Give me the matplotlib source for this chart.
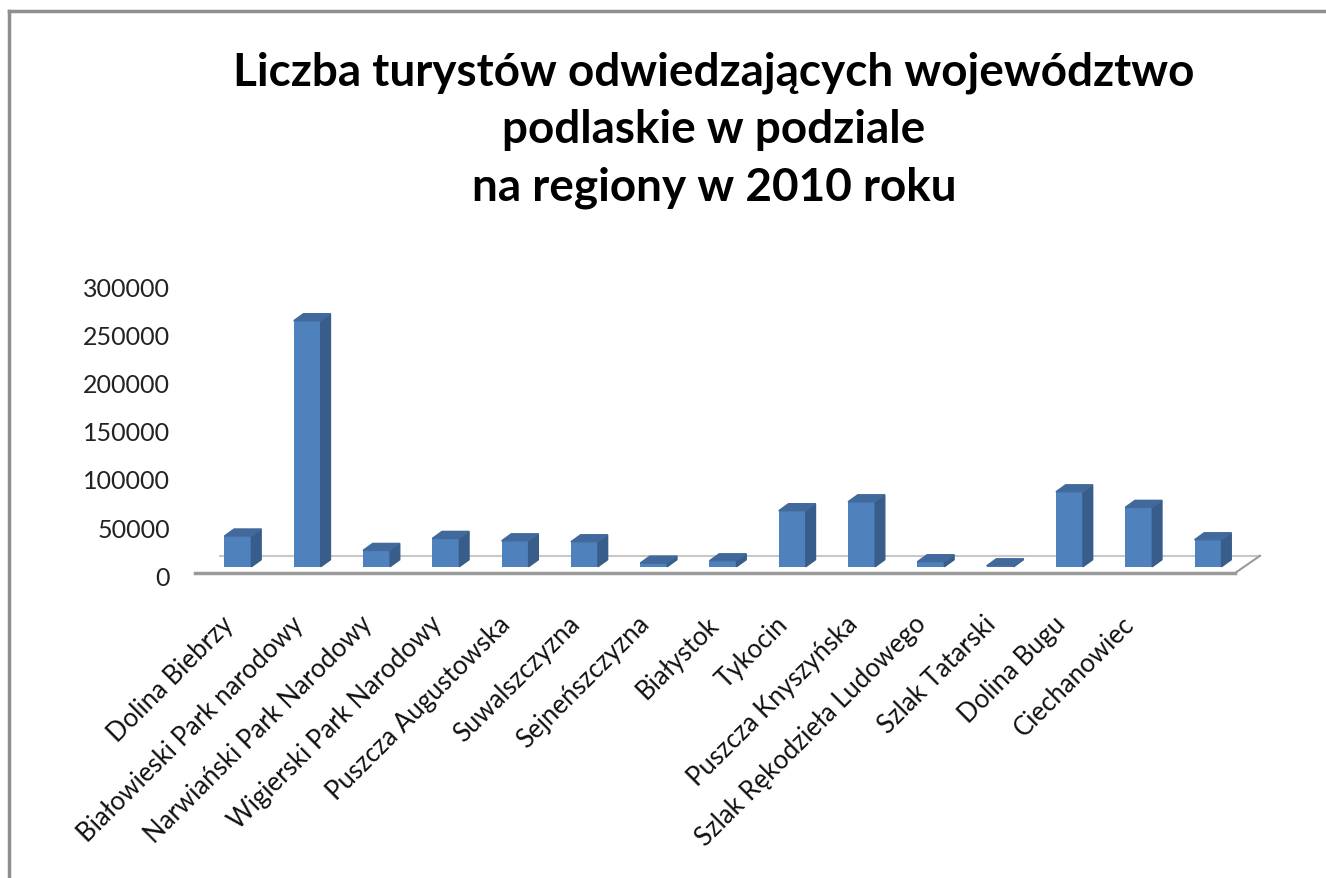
import matplotlib
matplotlib.use("Agg")
import matplotlib.pyplot as plt
from matplotlib.patches import Polygon
from matplotlib.lines import Line2D
from matplotlib.transforms import ScaledTranslation

# dane: liczba turystów w regionach (2010)
regiony = [
    "Dolina Biebrzy",
    "Białowieski Park narodowy",
    "Narwiański Park Narodowy",
    "Wigierski Park Narodowy",
    "Puszcza Augustowska",
    "Suwalszczyzna",
    "Sejneńszczyzna",
    "Białystok",
    "Tykocin",
    "Puszcza Knyszyńska",
    "Szlak Rękodzieła Ludowego",
    "Szlak Tatarski",
    "Dolina Bugu",
    "Ciechanowiec",
    "",
]
turysci = [32000, 256000, 17000, 29500, 27000, 26000, 3800, 6200,
           58300, 67600, 5200, 1000, 78000, 61800, 28100]
y_ticks = [0, 50000, 100000, 150000, 200000, 250000, 300000]

tytul = "Liczba turystów odwiedzających województwo\npodlaskie w podziale\nna regiony w 2010 roku"

plt.rcParams['font.family'] = ['Lato', 'DejaVu Sans']

FRONT = '#4F81BD'
SIDE = '#385D8A'
TOP = '#41699B'

fig = plt.figure(figsize=(13.26, 8.79), dpi=100)
ax = fig.add_axes([0.1481, 0.3541, 0.8152, 0.3280])

n = len(turysci)
ymax = y_ticks[-1]
ax.set_xlim(-0.6, n)
ax.set_ylim(0, ymax)

# glebokosc "3D" slupka
dx = 0.14
dy = ymax / 288.3 * 7
w = 0.39

# podloga
floor_front = -ymax / 288.3 * 6.3
floor_back = ymax / 288.3 * 11
ax.add_line(Line2D([-0.62, n - 1 + 0.39], [floor_front, floor_front],
                   color='#9A9A9A', lw=2.5, clip_on=False))
ax.add_line(Line2D([-0.26, n - 1 + 0.75], [floor_back, floor_back],
                   color='#C8C8C8', lw=1.5, clip_on=False))
ax.add_line(Line2D([n - 1 + 0.39, n - 1 + 0.75], [floor_front, floor_back],
                   color='#9A9A9A', lw=1.5, clip_on=False))

ax.bar(range(n), turysci, width=w, color=FRONT, zorder=3)
for i, v in enumerate(turysci):
    x1 = i + w / 2
    x0 = i - w / 2
    side = Polygon([(x1, 0), (x1 + dx, dy), (x1 + dx, v + dy), (x1, v)],
                   closed=True, color=SIDE, zorder=3, clip_on=False)
    top = Polygon([(x0, v), (x0 + dx, v + dy), (x1 + dx, v + dy), (x1, v)],
                  closed=True, color=TOP, zorder=3, clip_on=False)
    ax.add_patch(side)
    ax.add_patch(top)

ax.set_yticks(y_ticks)
ax.set_yticklabels([str(t) for t in y_ticks], fontsize=18, color='#222222')
ax.tick_params(axis='y', length=0, pad=19)
for lab in ax.get_yticklabels():
    lab.set_transform(lab.get_transform() + ScaledTranslation(0, -6 / 72, fig.dpi_scale_trans))

ax.set_xticks(range(n))
ax.set_xticklabels(regiony, rotation=45, ha='right', va='center',
                   rotation_mode='anchor', fontsize=18.5, color='#111111')
ax.tick_params(axis='x', length=0, pad=38)
for lab in ax.get_xticklabels():
    lab.set_transform(lab.get_transform() + ScaledTranslation(-6 / 72, 0, fig.dpi_scale_trans))

for s in ax.spines.values():
    s.set_visible(False)

fig.text(0.5385, 0.852, tytul, ha='center', va='center', fontsize=33,
         fontweight='bold', linespacing=1.45)

# ramka wykresu
fig.add_artist(Line2D([9 / 1326, 9 / 1326], [0, 1 - 12 / 879], color='#8F8F8F', lw=2.5))
fig.add_artist(Line2D([9 / 1326, 1], [1 - 12 / 879, 1 - 12 / 879], color='#8F8F8F', lw=2.5))

fig.savefig('out.png', dpi=100)
